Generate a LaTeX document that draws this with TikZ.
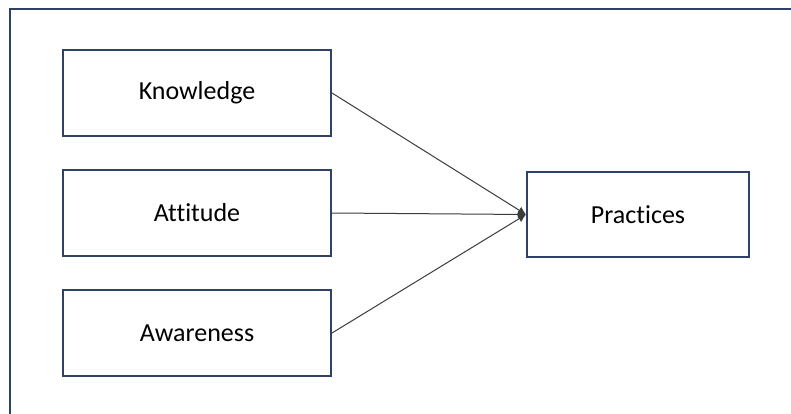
\documentclass[tikz,border=0pt]{standalone}
\usepackage{fontspec}
\setmainfont{Carlito}[Ligatures=NoCommon]
\usetikzlibrary{arrows.meta}
\definecolor{framec}{HTML}{2F4166}
\definecolor{linec}{HTML}{3C3C3C}
\tikzset{
  factor/.style={draw=framec,line width=2pt,fill=white,minimum width=268pt,minimum height=86pt,font=\fontsize{26}{30}\selectfont},
  outcome/.style={factor,minimum width=222pt,minimum height=85pt},
  link/.style={draw=linec,line width=1pt,-{Latex[length=8pt,width=8pt]}}
}
\begin{document}
\begin{tikzpicture}[x=1pt,y=-1pt]
\useasboundingbox (0,0) rectangle (791,414);
\clip (0,0) rectangle (791,414);
\fill[white] (0,0) rectangle (791,414);
\draw[framec,line width=2pt] (10,9) rectangle (820,440);
\node[factor] (kn) at (197,93) {Knowledge};
\node[factor] (at) at (197,213) {Attitude};
\node[factor] (aw) at (197,333) {Awareness};
\node[outcome] (pr) at (638,214.5) {Practices};
\draw[link] (kn.east) -- (pr.west);
\draw[link] (at.east) -- (pr.west);
\draw[link] (aw.east) -- (pr.west);
\end{tikzpicture}
\end{document}
